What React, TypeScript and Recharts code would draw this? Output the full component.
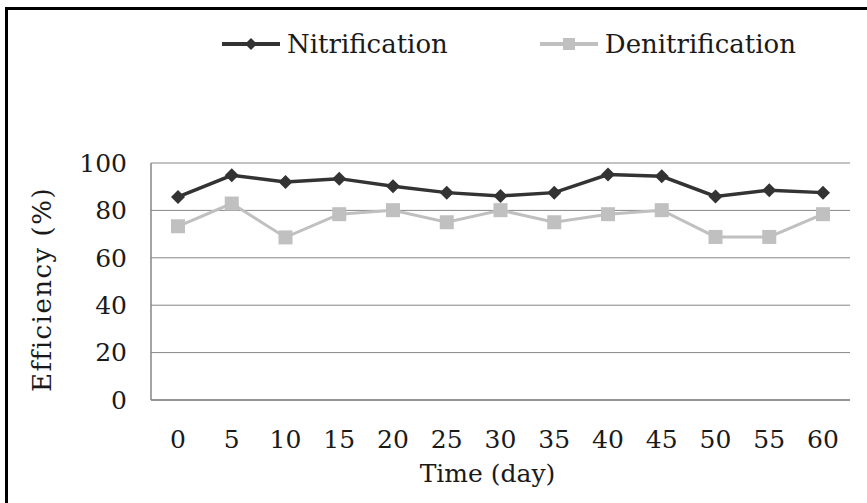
import React from "react";
import {
    LineChart,
    Line,
    XAxis,
    YAxis,
    CartesianGrid,
    Legend,
} from "recharts";

const days = ["0", "5", "10", "15", "20", "25", "30", "35", "40", "45", "50", "55", "60"];
const nitrification = [85.7, 94.8, 92, 93.4, 90.2, 87.5, 86.1, 87.5, 95.1, 94.4, 85.9, 88.5, 87.5];
const denitrification = [73.3, 82.9, 68.6, 78.4, 80.1, 75, 80.1, 75, 78.4, 80.1, 68.8, 68.8, 78.4];
const yTicks = [0, 20, 40, 60, 80, 100];

const data = days.map((d, i) => ({
    day: d,
    nit: nitrification[i],
    denit: denitrification[i],
}));

const FONT = "'DejaVu Serif', serif";
const TEXT = "#1a1a1a";
const GRID = "#868686";
const NIT = "#333333";
const DENIT = "#c0c0c0";

const Diamond = (props: any) => {
    const { cx, cy } = props;
    if (cx == null || cy == null) return null;
    const r = 7;
    return <path d={`M${cx},${cy - r}L${cx + r},${cy}L${cx},${cy + r}L${cx - r},${cy}Z`} fill={NIT} />;
};

const Square = (props: any) => {
    const { cx, cy } = props;
    if (cx == null || cy == null) return null;
    const s = 7;
    return <rect x={cx - s} y={cy - s} width={s * 2} height={s * 2} fill={DENIT} />;
};

function LegendIcon({ kind }: { kind: "nit" | "denit" }) {
    return (
        <svg width={58} height={18} style={{ display: "block" }}>
            {kind === "nit" ? (
                <>
                    <line x1={0} y1={9} x2={58} y2={9} stroke={NIT} strokeWidth={4} />
                    <path d="M29,3L35,9L29,15L23,9Z" fill={NIT} />
                </>
            ) : (
                <>
                    <line x1={0} y1={9} x2={58} y2={9} stroke={DENIT} strokeWidth={4} />
                    <rect x={23} y={3} width={12} height={12} fill={DENIT} />
                </>
            )}
        </svg>
    );
}

const renderLegend = () => (
    <div style={{ display: "flex", alignItems: "center", fontFamily: FONT, fontSize: 26, color: TEXT }}>
        <LegendIcon kind="nit" />
        <span style={{ marginLeft: 7 }}>Nitrification</span>
        <div style={{ width: 92 }} />
        <LegendIcon kind="denit" />
        <span style={{ marginLeft: 7 }}>Denitrification</span>
    </div>
);

export default function App() {
    return (
        <div
            style={{
                position: "absolute",
                left: 0,
                top: 0,
                width: 867,
                height: 503,
                overflow: "hidden",
                background: "#fff",
            }}
        >
            <div
                style={{
                    position: "absolute",
                    left: 5,
                    top: 7,
                    width: 1000,
                    height: 1000,
                    borderTop: "3px solid #000",
                    borderLeft: "3px solid #000",
                    boxShadow: "0 1px 0 #9a9a9a",
                }}
            />
            <LineChart
                width={867}
                height={503}
                data={data}
                margin={{ top: 163, right: 17, bottom: 43, left: 71 }}
                style={{ position: "absolute", left: 0, top: 0 }}
            >
                <CartesianGrid vertical={false} stroke={GRID} strokeWidth={1} />
                <XAxis
                    dataKey="day"
                    height={60}
                    padding={{ left: 27, right: 27 }}
                    axisLine={{ stroke: GRID, strokeWidth: 1.5 }}
                    tickLine={false}
                    tickSize={0}
                    tickMargin={30}
                    interval={0}
                    tick={{ fill: TEXT, fontSize: 25, fontFamily: FONT }}
                    label={{
                        value: "Time (day)",
                        position: "bottom",
                        offset: 0,
                        dx: -13,
                        dy: 4,
                        fill: TEXT,
                        fontSize: 25,
                        fontFamily: FONT,
                    }}
                />
                <YAxis
                    width={80}
                    domain={[0, 100]}
                    ticks={yTicks}
                    axisLine={{ stroke: GRID, strokeWidth: 1.5 }}
                    tickLine={false}
                    tickSize={0}
                    tickMargin={24}
                    tick={{ fill: TEXT, fontSize: 25, fontFamily: FONT }}
                    label={{
                        value: "Efficiency (%)",
                        angle: -90,
                        position: "center",
                        dx: -69,
                        dy: 8,
                        fill: TEXT,
                        fontSize: 26,
                        letterSpacing: 1.5,
                        fontFamily: FONT,
                    }}
                />
                <Legend
                    verticalAlign="middle"
                    align="center"
                    content={renderLegend}
                    wrapperStyle={{ top: 29, left: 222, width: "auto" }}
                />
                <Line
                    dataKey="nit"
                    name="Nitrification"
                    stroke={NIT}
                    strokeWidth={3.5}
                    dot={<Diamond />}
                    isAnimationActive={false}
                />
                <Line
                    dataKey="denit"
                    name="Denitrification"
                    stroke={DENIT}
                    strokeWidth={3}
                    dot={<Square />}
                    isAnimationActive={false}
                />
            </LineChart>
        </div>
    );
}
